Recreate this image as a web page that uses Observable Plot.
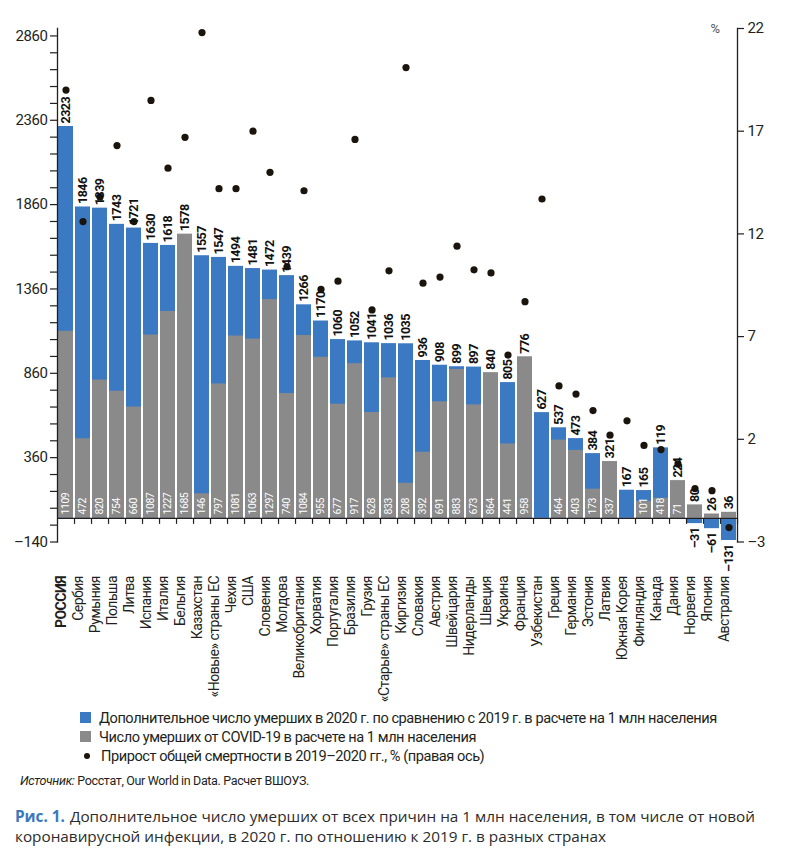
<!DOCTYPE html>
<html><head><meta charset="utf-8">
<script src="https://cdn.jsdelivr.net/npm/d3@7"></script>
<script src="https://cdn.jsdelivr.net/npm/@observablehq/plot@0.6"></script>
<style>
body{margin:0;background:#fff;}
#wrap{width:802px;height:855px;position:relative;font-family:Roboto,"Liberation Sans",sans-serif;color:#231f20;}
#chart{position:absolute;left:0;top:0;}
#chart svg text{letter-spacing:-0.4px;}
#chart svg g[aria-label="text"] text{letter-spacing:-0.5px;}
.legend{position:absolute;left:80px;top:708px;font-size:14.6px;white-space:nowrap;letter-spacing:-0.45px;}
.row{display:flex;align-items:center;height:19px;}
.sw{width:11px;height:11px;margin-right:8px;flex:none;}
.dot{width:6px;height:6px;border-radius:50%;background:#1a140c;margin:0 11px 0 4px;flex:none;}
.source{position:absolute;left:20px;top:773px;font-size:12.5px;white-space:nowrap;letter-spacing:-0.35px;}
.caption{position:absolute;left:15px;top:806px;width:785px;font-family:"Open Sans","Noto Sans",sans-serif;font-size:15.3px;line-height:20px;color:#2b2b2b;}
.caption b{color:#3a78c0;margin-right:1px;}
</style></head>
<body><div id="wrap"><div id="chart"></div>
<div class="legend">
<div class="row"><div class="sw" style="background:#3b79c3"></div>Дополнительное число умерших в 2020 г. по сравнению с 2019 г. в расчете на 1 млн населения</div>
<div class="row"><div class="sw" style="background:#8a8a8a"></div>Число умерших от COVID-19 в расчете на 1 млн населения</div>
<div class="row"><div class="dot"></div>Прирост общей смертности в 2019–2020 гг., % (правая ось)</div>
</div>
<div class="source"><i>Источник:</i> Росстат, Our World in Data. Расчет ВШОУЗ.</div>
<div class="caption"><b>Рис. 1.</b> Дополнительное число умерших от всех причин на 1 млн населения, в том числе от новой коронавирусной инфекции, в 2020 г. по отношению к 2019 г. в разных странах</div>
</div>
<script>
const countries = ["РОССИЯ","Сербия","Румыния","Польша","Литва","Испания","Италия","Бельгия","Казахстан","«Новые» страны ЕС","Чехия","США","Словения","Молдова","Великобритания","Хорватия","Португалия","Бразилия","Грузия","«Старые» страны ЕС","Киргизия","Словакия","Австрия","Швейцария","Нидерланды","Швеция","Украина","Франция","Узбекистан","Греция","Германия","Эстония","Латвия","Южная Корея","Финляндия","Канада","Дания","Норвегия","Япония","Австралия"];
const excess = [2323,1846,1839,1743,1721,1630,1618,1578,1557,1547,1494,1481,1472,1439,1266,1170,1060,1052,1041,1036,1035,936,908,899,897,840,805,776,627,537,473,384,321,167,165,119,224,-31,-61,-131];
const covid = [1109,472,820,754,660,1087,1227,1685,146,797,1081,1063,1297,740,1084,955,677,917,628,833,208,392,691,883,673,864,441,958,null,464,403,173,337,null,101,418,71,80,26,36];
const growth = [19.0,12.6,13.8,16.3,12.6,18.5,15.2,16.7,21.8,14.2,14.2,17.0,15.0,10.4,14.1,9.3,9.7,16.6,8.3,10.2,20.1,9.6,9.9,11.4,10.25,10.1,6.1,8.7,13.7,4.6,4.2,3.4,2.2,2.9,1.7,1.5,0.8,-0.4,-0.5,-2.3];
const leftTicks = [-140,360,860,1360,1860,2360,2860];
const rightTicks = [-3,2,7,12,17,22];
// the original figure draws these two countries' bar heights swapped relative to their labels
const swapped = ["Канада","Дания"];

const BLUE = "#3b79c3", GREY = "#8a8a8a", INK = "#231f20";
const FONT = 'Roboto,"Liberation Sans",sans-serif';
const Y0 = -140, Y1 = 2904, P0 = -3, P1 = 22;
const toLeft = p => Y0 + (p - P0) / (P1 - P0) * (Y1 - Y0);
const toRight = v => P0 + (v - Y0) / (Y1 - Y0) * (P1 - P0);
const fmt = v => v < 0 ? "–" + Math.abs(v) : String(v);

const data = countries.map((c, i) => ({c, ex: excess[i], cv: covid[i], g: growth[i], sw: swapped.includes(c)}));
const blueH = d => d.sw ? d.cv : d.ex;
const greyH = d => d.sw ? d.ex : d.cv;
const topVal = d => Math.max(d.ex, d.cv ?? -Infinity);
const pos = data.filter(d => d.ex >= 0);
const neg = data.filter(d => d.ex < 0);
const withCovid = data.filter(d => d.cv != null);

const W = 802, H = 706, mL = 57, mR = 65, mT = 28, mB = H - 541.5;
const pxPerUnit = (H - mT - mB) / (Y1 - Y0);
const step = (W - mL - mR) / (countries.length - 0.12);
const minor = d3.range(-140, 2861, 100);

const chart = Plot.plot({
  width: W, height: H,
  marginLeft: mL, marginRight: mR, marginTop: mT, marginBottom: mB,
  style: {fontFamily: FONT, color: INK, background: "transparent"},
  x: {type: "band", domain: countries, paddingInner: 0.12, paddingOuter: 0, axis: null},
  y: {domain: [Y0, Y1], axis: null},
  marks: [
    Plot.barY(data, {x: "c", y: blueH, fill: BLUE}),
    Plot.barY(withCovid, {x: "c", y: greyH, fill: GREY}),
    Plot.ruleY([0], {stroke: INK, strokeWidth: 1.3}),
    Plot.ruleX(countries, {x: d => d, y1: 0, y2: -6 / pxPerUnit, dx: step / 2, stroke: INK, strokeWidth: 1.2}),
    Plot.frame({anchor: "left", stroke: INK, strokeWidth: 1.3}),
    Plot.frame({anchor: "right", stroke: INK, strokeWidth: 1.3}),
    Plot.axisY({ticks: minor, tickFormat: d => leftTicks.includes(d) ? fmt(d) : "", label: null, tickSize: 7, tickPadding: 3, fontSize: 15, fontFamily: FONT, stroke: INK, strokeWidth: 1.2}),
    Plot.axisY({anchor: "right", ticks: rightTicks.map(toLeft), tickFormat: v => fmt(Math.round(toRight(v))), label: null, tickSize: 6, tickPadding: 4, fontSize: 15, fontFamily: FONT, stroke: INK, strokeWidth: 1.2}),
    Plot.text(["%"], {frameAnchor: "top-right", lineAnchor: "middle", dx: -18, fontSize: 13, fill: "#555", fontFamily: FONT}),
    Plot.dot(data, {x: "c", y: d => toLeft(d.g), r: 3.6, fill: "#1a140c", stroke: "none"}),
    Plot.text(pos, {x: "c", y: topVal, text: d => fmt(d.ex), rotate: -90, textAnchor: "start", dy: -3, fontSize: 12.5, fontWeight: "bold", fill: "#111", fontFamily: FONT}),
    Plot.text(withCovid.filter(d => d.ex >= 0), {x: "c", y: 0, text: d => fmt(d.cv), rotate: -90, textAnchor: "start", dy: -4, fontSize: 10.5, fill: "#fff", fontFamily: FONT}),
    Plot.text(neg, {x: "c", y: d => d.cv, text: d => fmt(d.cv), rotate: -90, textAnchor: "start", dy: -3, fontSize: 12.5, fontWeight: "bold", fill: "#111", fontFamily: FONT}),
    Plot.text(neg, {x: "c", y: d => d.ex, text: d => fmt(d.ex), rotate: -90, textAnchor: "end", dy: 4, fontSize: 12.5, fontWeight: "bold", fill: "#111", fontFamily: FONT}),
    Plot.text(countries.slice(0, 1), {x: d => d, frameAnchor: "bottom", dy: 34, rotate: -90, textAnchor: "end", fontSize: 14, fontWeight: "bold", fill: INK, fontFamily: FONT}),
    Plot.text(countries.slice(1), {x: d => d, frameAnchor: "bottom", dy: 34, rotate: -90, textAnchor: "end", fontSize: 14, fill: INK, fontFamily: FONT})
  ]
});
document.getElementById("chart").appendChild(chart);
</script>
</body></html>
